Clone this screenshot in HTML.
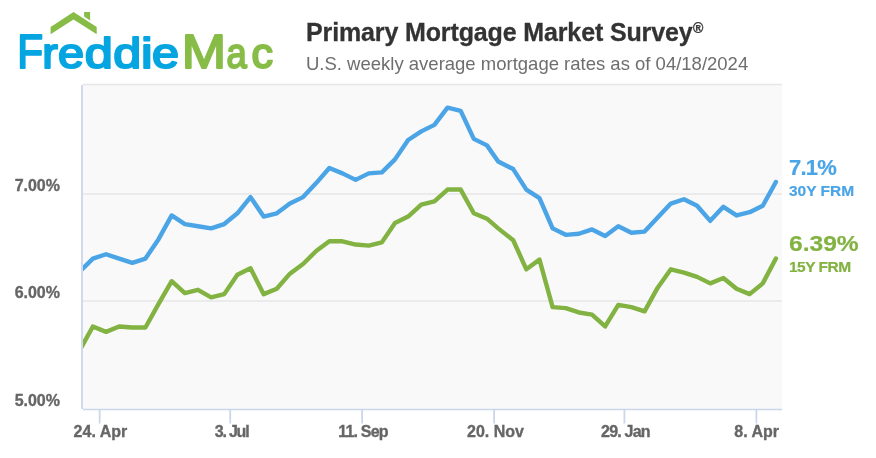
<!DOCTYPE html>
<html><head><meta charset="utf-8">
<style>
html,body{margin:0;padding:0;background:#fff;}
body{width:876px;height:458px;position:relative;overflow:hidden;font-family:"Liberation Sans",Arial,sans-serif;}
.t{position:absolute;white-space:nowrap;line-height:1;}
#title{left:306px;top:19.7px;font-size:25px;font-weight:bold;color:#333;letter-spacing:-0.13px;-webkit-text-stroke:0.3px #333;}
#sub{left:306px;top:55.1px;font-size:18.5px;color:#6e6e6e;}
.yl{position:absolute;right:816px;font-size:16px;font-weight:bold;color:#666;line-height:1;-webkit-text-stroke:0.35px #666;}
.xl{position:absolute;font-size:16px;font-weight:bold;color:#666;line-height:1;transform:translateX(-50%);-webkit-text-stroke:0.35px #666;}
.rl{position:absolute;left:789px;font-weight:bold;line-height:1;-webkit-text-stroke:0.2px currentColor;}
.b{fill:#05a5e1;stroke:#05a5e1}.g{fill:#87bc47;stroke:#87bc47}
</style></head><body><div style="position:absolute;left:0;top:0;width:876px;height:458px;will-change:transform">
<svg width="876" height="458" style="position:absolute;left:0;top:0">
  <!-- roof -->
  <polygon points="50.6,27 73.5,12.1 96.7,27 96.7,34.2 73.5,19.5 50.6,34.2" fill="#87bc47"/>
  <polygon points="84.1,12.1 90.1,12.1 90.1,20.4 84.1,16.6" fill="#87bc47"/>
  <g font-family="Liberation Sans, Arial, sans-serif" stroke-width="2.0" stroke-linejoin="round">
<text y="68.0" class="b"><tspan x="17.33" font-size="47.82" textLength="25.87" lengthAdjust="spacingAndGlyphs">F</tspan><tspan x="42.29" font-size="42.80" textLength="15.58" lengthAdjust="spacingAndGlyphs">r</tspan><tspan x="58.01" font-size="42.80" textLength="26.07" lengthAdjust="spacingAndGlyphs">e</tspan><tspan x="84.88" font-size="42.80" textLength="28.07" lengthAdjust="spacingAndGlyphs">d</tspan><tspan x="113.29" font-size="42.80" textLength="27.95" lengthAdjust="spacingAndGlyphs">d</tspan><tspan x="141.10" font-size="42.80" textLength="11.63" lengthAdjust="spacingAndGlyphs">i</tspan><tspan x="152.04" font-size="42.80" textLength="27.02" lengthAdjust="spacingAndGlyphs">e</tspan></text>
<text y="68.0" class="g"><tspan x="181.83" font-size="47.82" textLength="44.33" lengthAdjust="spacingAndGlyphs">M</tspan><tspan x="226.45" font-size="42.80" textLength="20.25" lengthAdjust="spacingAndGlyphs">a</tspan><tspan x="251.47" font-size="42.80" textLength="21.57" lengthAdjust="spacingAndGlyphs">c</tspan></text>
  </g>
  <!-- plot -->
  <rect x="83" y="84" width="699" height="325" fill="#f9f9f9"/>
  <line x1="83" y1="84.5" x2="782" y2="84.5" stroke="#e6e6e6" stroke-width="1.5"/>
  <line x1="83" y1="194" x2="782" y2="194" stroke="#e6e6e6" stroke-width="1.5"/>
  <line x1="83" y1="301" x2="782" y2="301" stroke="#e6e6e6" stroke-width="1.5"/>
  <line x1="82" y1="85" x2="82" y2="409" stroke="#ccd6eb" stroke-width="1.8"/>
  <line x1="83" y1="409.6" x2="782" y2="409.6" stroke="#ccd6eb" stroke-width="1.5"/>
  <g stroke="#ccd6eb" stroke-width="1.8">
    <line x1="99.65" y1="409" x2="99.65" y2="423.5"/>
    <line x1="230.2" y1="409" x2="230.2" y2="423.5"/>
    <line x1="362.1" y1="409" x2="362.1" y2="423.5"/>
    <line x1="494.1" y1="409" x2="494.1" y2="423.5"/>
    <line x1="624.4" y1="409" x2="624.4" y2="423.5"/>
    <line x1="756.4" y1="409" x2="756.4" y2="423.5"/>
  </g>
  <clipPath id="cp"><rect x="83" y="84" width="699" height="325"/></clipPath>
  <g clip-path="url(#cp)" fill="none" stroke-width="4.4" stroke-linejoin="round" stroke-linecap="round">
    <path stroke="#4aa4e6" d="M79.76 271.49 L92.89 258.56 L106.03 254.25 L119.16 258.56 L132.30 262.87 L145.43 258.56 L158.57 239.15 L171.70 215.44 L184.84 224.06 L197.97 226.22 L211.11 228.37 L224.24 224.06 L237.38 213.28 L250.51 197.11 L263.65 216.52 L276.78 213.28 L289.92 203.58 L303.05 197.11 L316.19 183.10 L329.32 168.01 L342.46 173.40 L355.59 179.86 L368.73 173.40 L381.86 172.32 L394.99 159.38 L408.13 139.98 L421.26 131.35 L434.40 124.89 L447.53 107.64 L460.67 110.87 L473.80 138.90 L486.94 145.37 L498.20 161.54 L513.21 169.08 L526.34 189.57 L539.48 198.19 L552.61 228.37 L565.75 234.84 L578.88 233.76 L592.02 229.45 L605.15 235.92 L618.29 226.22 L631.42 232.69 L644.56 231.61 L657.69 217.59 L670.83 203.58 L683.96 199.27 L697.10 205.74 L710.23 220.83 L723.36 206.81 L736.50 215.44 L749.63 212.20 L762.77 205.74 L775.90 182.02"/>
    <path stroke="#82b241" d="M79.76 350.19 L92.89 326.47 L106.03 331.86 L119.16 326.47 L132.30 327.55 L145.43 327.55 L158.57 303.83 L171.70 281.20 L184.84 293.05 L197.97 289.82 L211.11 297.37 L224.24 294.13 L237.38 274.73 L250.51 268.26 L263.65 294.13 L276.78 288.74 L289.92 273.65 L303.05 263.95 L316.19 251.01 L329.32 241.31 L342.46 241.31 L355.59 244.54 L368.73 245.62 L381.86 242.39 L394.99 222.98 L408.13 216.52 L421.26 204.66 L434.40 201.42 L447.53 189.57 L460.67 189.57 L473.80 213.28 L486.94 218.67 L498.20 228.37 L513.21 240.23 L526.34 269.34 L539.48 259.64 L552.61 307.07 L565.75 308.15 L578.88 312.46 L592.02 314.61 L605.15 326.47 L618.29 304.91 L631.42 307.07 L644.56 311.38 L657.69 287.66 L670.83 269.34 L683.96 272.57 L697.10 276.88 L710.23 283.35 L723.36 277.96 L736.50 288.74 L749.63 294.13 L762.77 283.35 L775.90 258.56"/>
  </g>
</svg>
<div class="t" id="title">Primary Mortgage Market Survey<sup style="font-size:14px;vertical-align:top;position:relative;top:1px;margin-left:0.5px">®</sup></div>
<div class="t" id="sub">U.S. weekly average mortgage rates as of 04/18/2024</div>
<div class="yl" style="top:178px">7.00%</div>
<div class="yl" style="top:285px">6.00%</div>
<div class="yl" style="top:393px">5.00%</div>
<div class="xl" style="left:100.45px;top:424.2px">24. Apr</div>
<div class="xl" style="left:231.6px;top:424.2px;letter-spacing:-1.2px">3. Jul</div>
<div class="xl" style="left:363px;top:424.2px;letter-spacing:-0.8px">11. Sep</div>
<div class="xl" style="left:495.5px;top:424.2px">20. Nov</div>
<div class="xl" style="left:625.4px;top:424.2px;letter-spacing:-0.8px">29. Jan</div>
<div class="xl" style="left:756.7px;top:424.2px">8. Apr</div>
<div class="rl" style="top:157.2px;font-size:22px;letter-spacing:-0.8px;color:#4aa4e6">7.1%</div>
<div class="rl" style="top:183.3px;font-size:15.5px;color:#4aa4e6">30Y FRM</div>
<div class="rl" style="top:233.4px;font-size:22px;transform:scaleX(1.118);transform-origin:0 0;color:#82b241">6.39%</div>
<div class="rl" style="top:259.4px;font-size:15.5px;letter-spacing:-0.5px;color:#82b241">15Y FRM</div>
</div></body></html>
